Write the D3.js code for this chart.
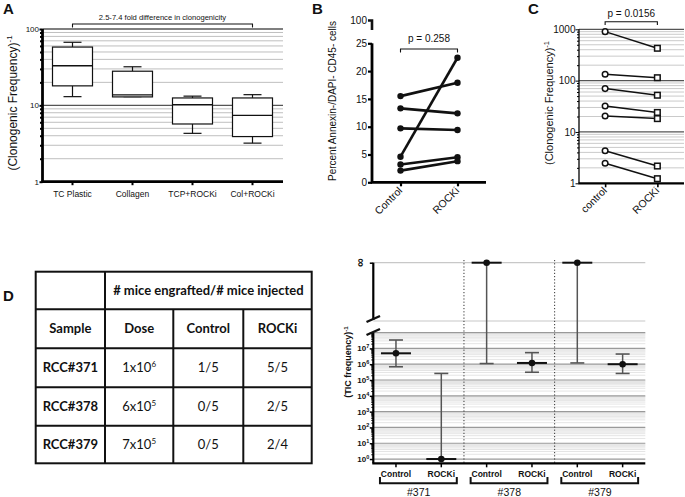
<!DOCTYPE html>
<html><head><meta charset="utf-8">
<script src="https://cdn.jsdelivr.net/npm/d3@7"></script>
<style>
body{margin:0;background:#fff}
svg{display:block}
text{font-family:"Liberation Sans",Arial,sans-serif;fill:#111}
.tbl text{font-family:Lato,"Open Sans",sans-serif}
</style>
</head><body>
<svg id="c" width="685" height="497"></svg>
<script>
// ---------- Panel A data ----------
const boxCats = ["TC Plastic","Collagen","TCP+ROCKi","Col+ROCKi"];
const boxWhiskerLow  = [13, 13, 4.3, 3.2];
const boxQ1          = [18, 12.9, 5.7, 3.9];
const boxMedian      = [33, 13.7, 10.2, 7.4];
const boxQ3          = [58, 28, 12.5, 12.5];
const boxWhiskerHigh = [67, 32, 13.2, 13.8];
const aTicks = [1, 10, 100];
const aNote = "2.5-7.4 fold difference in clonogenicity";

// ---------- Panel B data ----------
const bCats = ["Control","ROCKi"];
const bControl = [15.5, 13.3, 9.7, 4.6, 3.2, 2.1];
const bRocki   = [17.9, 12.4, 9.4, 22.4, 4.5, 3.8];
const bTicks = [0, 5, 10, 15, 20, 25];
const bTopTick = "100";
const bP = "p = 0.258";

// ---------- Panel C data ----------
const cCats = ["control","ROCKi"];
const cControl = [900, 133, 70, 32, 20.5, 4.3, 2.45];
const cRocki   = [427, 114, 52, 24, 18.2, 2.17, 1.23];
const cTicks = [1, 10, 100, 1000];
const cP = "p = 0.0156";

// ---------- Panel D table ----------
const tHeader = "# mice engrafted/# mice injected";
const tCols = ["Sample","Dose","Control","ROCKi"];
const tSamples = ["RCC#371","RCC#378","RCC#379"];
const tDoseBase = ["1x10","6x10","7x10"];
const tDoseExp = ["6","5","5"];
const tControl = ["1/5","0/5","0/5"];
const tRocki = ["5/5","2/5","2/4"];

// ---------- Panel D chart ----------
const dCats = ["Control","ROCKi","Control","ROCKi","Control","ROCKi"];
const dGroups = ["#371","#378","#379"];
const dEstimate = [4.9e6, 1, Infinity, 1.2e6, Infinity, 1.0e6];
const dUpper    = [3.4e7, 2.6e5, Infinity, 5.4e6, Infinity, 4.4e6];
const dLower    = [6.9e5, 1, 1.1e6, 3.1e5, 1.2e6, 2.6e5];
const dTicks = [1e0,1e1,1e2,1e3,1e4,1e5,1e6,1e7];

const svg = d3.select("#c");

function logGrid(lo, hi){
  const out=[];
  for(let e=lo;e<hi;e++) for(let m=1;m<10;m++) out.push({v:m*Math.pow(10,e), major:m===1});
  out.push({v:Math.pow(10,hi), major:true});
  return out;
}
function panelLabel(t,x,y){ svg.append("text").attr("x",x).attr("y",y).attr("font-size",15).attr("font-weight","bold").text(t); }

// ================= Panel A =================
(function(){
  const g = svg.append("g");
  const yA = d3.scaleLog().domain([1,100]).range([181.7,29]);
  const xA = d3.scaleBand().domain(boxCats).range([42.5,282.5]);
  const grid = logGrid(0,2).filter(d=>d.v>1);
  g.selectAll(".gA").data(grid).join("line")
    .attr("x1",42.5).attr("x2",283).attr("y1",d=>yA(d.v)).attr("y2",d=>yA(d.v))
    .attr("stroke",d=>d.major?"#555":"#b8b8b8").attr("stroke-width",d=>d.major?1.3:0.9);
  // minor ticks
  const minor = g.append("g").attr("transform","translate(42.5,0)")
    .call(d3.axisLeft(yA).tickValues(grid.filter(d=>!d.major).map(d=>d.v)).tickSize(2.5).tickFormat(""));
  minor.select(".domain").remove();
  minor.selectAll("line").attr("stroke-width",2);
  const ax = g.append("g").attr("transform","translate(42.5,0)")
    .call(d3.axisLeft(yA).tickValues(aTicks).tickSize(3).tickFormat(d3.format("d")));
  ax.select(".domain").attr("stroke-width",2.8).attr("d","M0,29V181.7");
  ax.selectAll("line").attr("stroke-width",2);
  ax.selectAll("text").attr("font-size",8).attr("x",-3.5);
  // x axis
  const xa = g.append("g").attr("transform","translate(0,181.7)")
    .call(d3.axisBottom(xA).tickSize(3.5));
  xa.select(".domain").attr("d","M41.5,0H283").attr("stroke-width",2.8);
  xa.selectAll("line").attr("stroke-width",2);
  xa.selectAll("text").attr("font-size",8.5).attr("y",9);
  // boxes
  const idx = d3.range(boxCats.length);
  const cx = i=>xA(boxCats[i])+xA.bandwidth()/2;
  const bw = 40, cw = 18;
  const bg = g.selectAll(".box").data(idx).join("g");
  bg.append("line").attr("x1",cx).attr("x2",cx).attr("y1",i=>yA(boxQ3[i])).attr("y2",i=>yA(boxWhiskerHigh[i])).attr("stroke","#111").attr("stroke-width",1.2);
  bg.append("line").attr("x1",cx).attr("x2",cx).attr("y1",i=>yA(boxQ1[i])).attr("y2",i=>yA(boxWhiskerLow[i])).attr("stroke","#111").attr("stroke-width",1.2);
  bg.append("line").attr("x1",i=>cx(i)-cw/2).attr("x2",i=>cx(i)+cw/2).attr("y1",i=>yA(boxWhiskerHigh[i])).attr("y2",i=>yA(boxWhiskerHigh[i])).attr("stroke","#111").attr("stroke-width",1.2);
  bg.append("line").attr("x1",i=>cx(i)-cw/2).attr("x2",i=>cx(i)+cw/2).attr("y1",i=>yA(boxWhiskerLow[i])).attr("y2",i=>yA(boxWhiskerLow[i])).attr("stroke","#111").attr("stroke-width",1.2);
  bg.append("rect").attr("x",i=>cx(i)-bw/2).attr("width",bw).attr("y",i=>yA(boxQ3[i])).attr("height",i=>yA(boxQ1[i])-yA(boxQ3[i]))
    .attr("fill","#fff").attr("stroke","#111").attr("stroke-width",1.2);
  bg.append("line").attr("x1",i=>cx(i)-bw/2).attr("x2",i=>cx(i)+bw/2).attr("y1",i=>yA(boxMedian[i])).attr("y2",i=>yA(boxMedian[i])).attr("stroke","#111").attr("stroke-width",1.4);
  // bracket
  const x0=cx(0), x1=cx(3);
  g.append("path").attr("d",`M${x0},27.5V24H${x1}V27.5`).attr("fill","none").attr("stroke","#111").attr("stroke-width",1.1);
  g.append("text").attr("x",(x0+x1)/2).attr("y",20).attr("text-anchor","middle").attr("font-size",7.6).text(aNote);
  // y label
  const yl = g.append("text").attr("transform","translate(17,103) rotate(-90)").attr("text-anchor","middle").attr("font-size",12);
  yl.append("tspan").text("(Clonogenic Frequency)");
  yl.append("tspan").attr("dy",-5).attr("font-size",8).text("-1");
  panelLabel("A",3,14);
})();

// ================= Panel B =================
(function(){
  const g = svg.append("g");
  const yB = d3.scaleLinear().domain([0,25]).range([182.3,43.3]);
  const xB = d3.scalePoint().domain(bCats).range([372,486]).padding(0.5);
  const ax = g.append("g").attr("transform","translate(372,0)")
    .call(d3.axisLeft(yB).tickValues(bTicks).tickSize(4));
  ax.select(".domain").attr("stroke-width",2.8).attr("d","M0,43.3V182.3");
  ax.selectAll("line").attr("stroke-width",2.2);
  ax.selectAll("text").attr("font-size",10).attr("x",-5);
  // broken top segment
  g.append("path").attr("d","M368,20.5H372V30").attr("fill","none").attr("stroke","#111").attr("stroke-width",2.6);
  g.append("text").attr("x",367).attr("y",24).attr("text-anchor","end").attr("font-size",10).text(bTopTick);
  const xa = g.append("g").attr("transform","translate(0,182.3)").call(d3.axisBottom(xB).tickSize(4));
  xa.select(".domain").attr("d","M371,0H486").attr("stroke-width",2.8);
  xa.selectAll("line").attr("stroke-width",2.2);
  xa.selectAll("text").attr("font-size",10.5).attr("text-anchor","end").attr("dy",0).attr("y",0)
    .attr("transform","translate(2,9) rotate(-45)");
  const idx = d3.range(bControl.length);
  g.selectAll(".lb").data(idx).join("line")
    .attr("x1",xB(bCats[0])).attr("x2",xB(bCats[1])).attr("y1",i=>yB(bControl[i])).attr("y2",i=>yB(bRocki[i]))
    .attr("stroke","#111").attr("stroke-width",2.6);
  g.selectAll(".pc").data(idx).join("circle").attr("cx",xB(bCats[0])).attr("cy",i=>yB(bControl[i])).attr("r",3.2).attr("fill","#111");
  g.selectAll(".pr").data(idx).join("circle").attr("cx",xB(bCats[1])).attr("cy",i=>yB(bRocki[i])).attr("r",3.2).attr("fill","#111");
  const a=xB(bCats[0]), b=xB(bCats[1]);
  g.append("path").attr("d",`M${a},52.5V49H${b}V52.5`).attr("fill","none").attr("stroke","#111").attr("stroke-width",1.1);
  g.append("text").attr("x",(a+b)/2).attr("y",42).attr("text-anchor","middle").attr("font-size",10).text(bP);
  g.append("text").attr("transform","translate(336,101) rotate(-90)").attr("text-anchor","middle").attr("font-size",10)
    .text("Percent Annexin-/DAPI- CD45- cells");
  panelLabel("B",312,14);
})();

// ================= Panel C =================
(function(){
  const g = svg.append("g");
  const yC = d3.scaleLog().domain([1,1000]).range([183.3,29.3]);
  const xC = d3.scalePoint().domain(cCats).range([579,683.5]).padding(0.5);
  const grid = logGrid(0,3).filter(d=>d.v>1);
  g.selectAll(".gC").data(grid).join("line")
    .attr("x1",579).attr("x2",684).attr("y1",d=>yC(d.v)).attr("y2",d=>yC(d.v))
    .attr("stroke",d=>d.major?"#555":"#c4c4c4").attr("stroke-width",d=>d.major?1.2:0.9);
  const minor = g.append("g").attr("transform","translate(579,0)")
    .call(d3.axisLeft(yC).tickValues(grid.filter(d=>!d.major).map(d=>d.v)).tickSize(2).tickFormat(""));
  minor.select(".domain").remove();
  const ax = g.append("g").attr("transform","translate(579,0)")
    .call(d3.axisLeft(yC).tickValues(cTicks).tickSize(3.5).tickFormat(d3.format("d")));
  ax.select(".domain").attr("d","M0,29.3V183.3").attr("stroke-width",1.3);
  ax.selectAll("text").attr("font-size",10).attr("x",-3.5);
  const xa = g.append("g").attr("transform","translate(0,183.3)").call(d3.axisBottom(xC).tickSize(4));
  xa.select(".domain").attr("d","M578.5,0H684").attr("stroke-width",2.2);
  xa.selectAll("line").attr("stroke-width",1.6);
  xa.selectAll("text").attr("font-size",10.5).attr("text-anchor","end").attr("dy",0).attr("y",0)
    .attr("transform","translate(2,8) rotate(-45)");
  const idx = d3.range(cControl.length);
  g.selectAll(".lc").data(idx).join("line")
    .attr("x1",xC(cCats[0])).attr("x2",xC(cCats[1])).attr("y1",i=>yC(cControl[i])).attr("y2",i=>yC(cRocki[i]))
    .attr("stroke","#111").attr("stroke-width",1.5);
  g.selectAll(".cc").data(idx).join("circle").attr("cx",xC(cCats[0])).attr("cy",i=>yC(cControl[i])).attr("r",2.8)
    .attr("fill","#fff").attr("stroke","#111").attr("stroke-width",1.5);
  g.selectAll(".cr").data(idx).join("rect").attr("x",xC(cCats[1])-2.8).attr("y",i=>yC(cRocki[i])-2.8).attr("width",5.6).attr("height",5.6)
    .attr("fill","#fff").attr("stroke","#111").attr("stroke-width",1.5);
  const a=xC(cCats[0]), b=xC(cCats[1]);
  g.append("path").attr("d",`M${a},25V21.7H${b}V25`).attr("fill","none").attr("stroke","#111").attr("stroke-width",1.1);
  g.append("text").attr("x",(a+b)/2).attr("y",17).attr("text-anchor","middle").attr("font-size",10).text(cP);
  const yl = g.append("text").attr("transform","translate(553,103) rotate(-90)").attr("text-anchor","middle").attr("font-size",11);
  yl.append("tspan").text("(Clonogenic Frequency)");
  yl.append("tspan").attr("dy",-4.5).attr("font-size",7.5).text("-1");
  panelLabel("C",528,14);
})();

// ================= Panel D table =================
(function(){
  panelLabel("D",3,301);
  const g = svg.append("g").attr("class","tbl");
  const xs = [35.7,105,173.3,243.3,311.7];
  const ys = [271.7,309.3,348.3,387.3,425.7,463.3];
  const st = {stroke:"#111","stroke-width":2};
  g.append("rect").attr("x",xs[0]).attr("y",ys[0]).attr("width",xs[4]-xs[0]).attr("height",ys[5]-ys[0]).attr("fill","none").attr("stroke","#111").attr("stroke-width",2);
  ys.slice(1,5).forEach(y=>g.append("line").attr("x1",xs[0]).attr("x2",xs[4]).attr("y1",y).attr("y2",y).attr("stroke","#111").attr("stroke-width",2));
  g.append("line").attr("x1",xs[1]).attr("x2",xs[1]).attr("y1",ys[0]).attr("y2",ys[5]).attr("stroke","#111").attr("stroke-width",2);
  [2,3].forEach(c=>g.append("line").attr("x1",xs[c]).attr("x2",xs[c]).attr("y1",ys[1]).attr("y2",ys[5]).attr("stroke","#111").attr("stroke-width",2));
  const cx = c=>(xs[c]+xs[c+1])/2, cy = r=>(ys[r]+ys[r+1])/2+4.5;
  g.append("text").attr("x",(xs[1]+xs[4])/2).attr("y",cy(0)).attr("text-anchor","middle").attr("font-size",13).attr("font-weight","bold").text(tHeader);
  tCols.forEach((t,c)=>g.append("text").attr("x",cx(c)).attr("y",cy(1)).attr("text-anchor","middle").attr("font-size",13).attr("font-weight","bold").text(t));
  tSamples.forEach((s,r)=>{
    g.append("text").attr("x",cx(0)).attr("y",cy(r+2)).attr("text-anchor","middle").attr("font-size",13).attr("font-weight","bold").text(s);
    const d = g.append("text").attr("x",cx(1)).attr("y",cy(r+2)).attr("text-anchor","middle").attr("font-size",13);
    d.append("tspan").text(tDoseBase[r]);
    d.append("tspan").attr("dy",-5).attr("font-size",8).text(tDoseExp[r]);
    g.append("text").attr("x",cx(2)).attr("y",cy(r+2)).attr("text-anchor","middle").attr("font-size",13).text(tControl[r]);
    g.append("text").attr("x",cx(3)).attr("y",cy(r+2)).attr("text-anchor","middle").attr("font-size",13).text(tRocki[r]);
  });
})();

// ================= Panel D chart =================
(function(){
  const g = svg.append("g");
  const X0 = 373.3, X1 = 645.3;
  const yD = d3.scaleLog().domain([Math.pow(10,-0.27),1e8]).range([463.3,332.6]);
  const yTop = d3.scalePoint().domain(["break","∞"]).range([321,262.7]);
  const yv = v => isFinite(v) ? yD(v) : yTop("∞");
  const xD = d3.scaleBand().domain(d3.range(dCats.length)).range([X0,X1]);
  const cx = i => xD(i)+xD.bandwidth()/2;
  const grid = logGrid(0,8);
  g.selectAll(".gD").data(grid).join("line")
    .attr("x1",X0).attr("x2",X1).attr("y1",d=>yD(d.v)).attr("y2",d=>yD(d.v))
    .attr("stroke",d=>d.major?"#9a9a9a":"#e2e2e2").attr("stroke-width",d=>d.major?1.2:0.9);
  yTop.domain().forEach(k=>g.append("line").attr("x1",X0).attr("x2",X1).attr("y1",yTop(k)).attr("y2",yTop(k)).attr("stroke","#c8c8c8").attr("stroke-width",1.2));
  // separators
  [2,4].forEach(i=>g.append("line").attr("x1",xD(i)).attr("x2",xD(i)).attr("y1",260).attr("y2",463).attr("stroke","#333").attr("stroke-width",1).attr("stroke-dasharray","1.2,2"));
  // axis lower
  const minor = g.append("g").attr("transform",`translate(${X0},0)`)
    .call(d3.axisLeft(yD).tickValues(grid.filter(d=>!d.major).map(d=>d.v)).tickSize(2).tickFormat(""));
  minor.select(".domain").remove();
  const ax = g.append("g").attr("transform",`translate(${X0},0)`)
    .call(d3.axisLeft(yD).tickValues(dTicks.concat([1e8])).tickSize(3.5).tickFormat(""));
  ax.select(".domain").attr("d","M0,333V463.3").attr("stroke-width",2.2);
  ax.selectAll("line").attr("stroke-width",1.5);
  dTicks.forEach(v=>{
    const t = g.append("text").attr("x",X0-4).attr("y",yD(v)+3).attr("text-anchor","end").attr("font-size",8).attr("font-weight","bold");
    t.append("tspan").text("10");
    t.append("tspan").attr("dy",-3).attr("font-size",5.5).text(String(Math.round(Math.log10(v))));
  });
  // upper axis
  const axT = g.append("g").attr("transform",`translate(${X0},0)`).call(d3.axisLeft(yTop).tickValues(["∞"]).tickSize(3.5).tickFormat(""));
  axT.select(".domain").attr("d","M0,262.7V320").attr("stroke-width",2.2);
  axT.selectAll("line").attr("stroke-width",1.5);
  g.append("text").attr("transform",`translate(${X0-12},${yTop("∞")}) rotate(90)`).attr("text-anchor","middle").attr("dominant-baseline","central")
    .attr("font-size",12).attr("font-weight","bold").text("∞");
  // break marks
  g.append("line").attr("x1",366.5).attr("y1",322).attr("x2",380).attr("y2",316).attr("stroke","#111").attr("stroke-width",2.4);
  g.append("line").attr("x1",366.5).attr("y1",335).attr("x2",380).attr("y2",329).attr("stroke","#111").attr("stroke-width",2.4);
  // x axis
  const xa = g.append("g").attr("transform","translate(0,463.3)").call(d3.axisBottom(xD).tickSize(4).tickFormat(i=>dCats[i]));
  xa.select(".domain").attr("d",`M${X0-1},0H${X1}`).attr("stroke-width",2.2);
  xa.selectAll("line").attr("stroke-width",1.5);
  xa.selectAll("text").attr("font-size",8.5).attr("font-weight","bold").attr("y",7.5);
  // group brackets
  dGroups.forEach((gname,k)=>{
    const a = cx(2*k)-16, b = cx(2*k+1)+15.5;
    g.append("path").attr("d",`M${a},477V483.3H${b}V477`).attr("fill","none").attr("stroke","#111").attr("stroke-width",2);
    g.append("text").attr("x",(cx(2*k)+cx(2*k+1))/2).attr("y",495.5).attr("text-anchor","middle").attr("font-size",10.5).text(gname);
  });
  // error bars
  const idx = d3.range(dCats.length);
  g.selectAll(".eb").data(idx).join("line").attr("x1",cx).attr("x2",cx).attr("y1",i=>yv(dLower[i])).attr("y2",i=>yv(dUpper[i]))
    .attr("stroke","#555").attr("stroke-width",1.5);
  idx.forEach(i=>{
    if(dUpper[i]!==dEstimate[i]) g.append("line").attr("x1",cx(i)-7).attr("x2",cx(i)+7).attr("y1",yv(dUpper[i])).attr("y2",yv(dUpper[i])).attr("stroke","#555").attr("stroke-width",1.6);
    if(dLower[i]!==dEstimate[i]) g.append("line").attr("x1",cx(i)-7).attr("x2",cx(i)+7).attr("y1",yv(dLower[i])).attr("y2",yv(dLower[i])).attr("stroke","#555").attr("stroke-width",1.6);
  });
  g.selectAll(".mn").data(idx).join("line").attr("x1",i=>cx(i)-15).attr("x2",i=>cx(i)+15).attr("y1",i=>yv(dEstimate[i])).attr("y2",i=>yv(dEstimate[i]))
    .attr("stroke","#111").attr("stroke-width",2);
  g.selectAll(".pt").data(idx).join("circle").attr("cx",cx).attr("cy",i=>yv(dEstimate[i])).attr("r",3.3).attr("fill","#111");
  const yl = g.append("text").attr("transform","translate(351,362) rotate(-90)").attr("text-anchor","middle").attr("font-size",9).attr("font-weight","bold");
  yl.append("tspan").text("(TIC frequency)");
  yl.append("tspan").attr("dy",-3.5).attr("font-size",6).text("-1");
})();
</script>
</body></html>
